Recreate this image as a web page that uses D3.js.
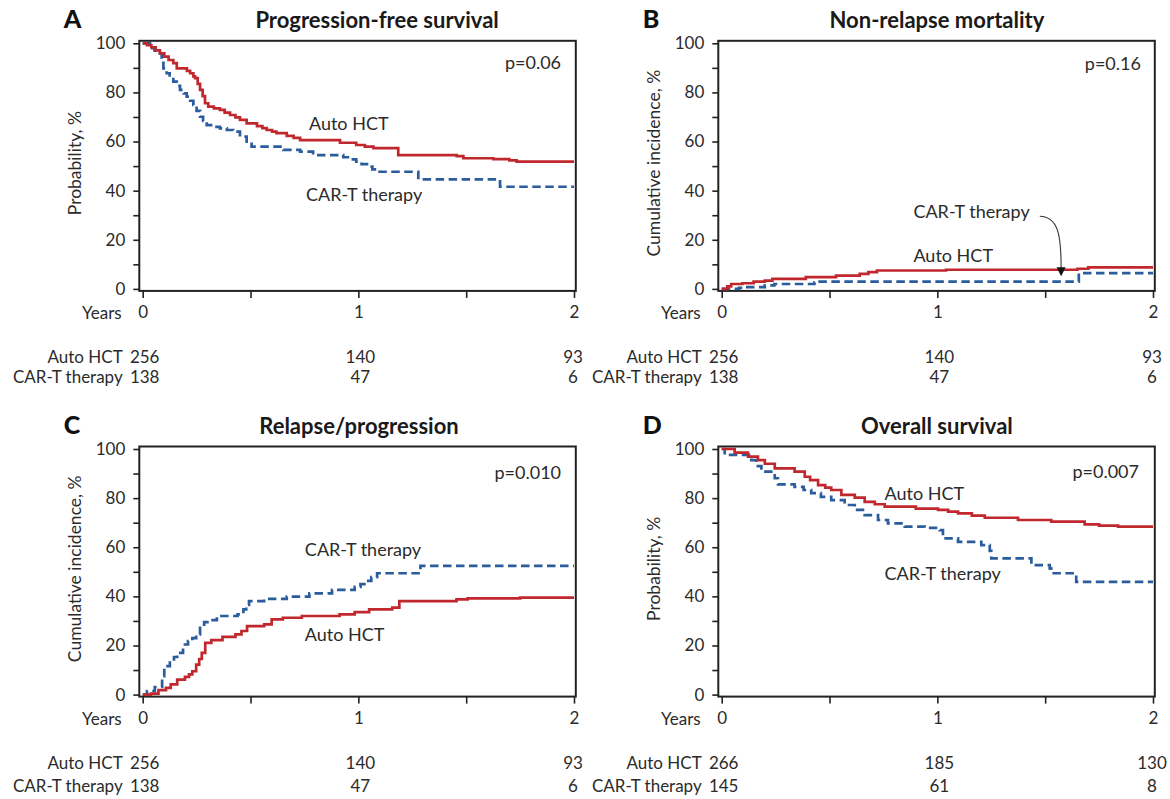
<!DOCTYPE html>
<html><head><meta charset="utf-8">
<script src="https://cdn.jsdelivr.net/npm/d3@7"></script>
<style>body{margin:0;background:#fff}svg{display:block}text{font-family:Lato,"Noto Sans",sans-serif}</style>
</head><body><svg id="c" width="1170" height="799"></svg>
<script>
// ---------- data ----------
const xTickValues = [0, 0.5, 1, 1.5, 2];
const xLabelValues = [0, 1, 2];
const yTickValues = [0, 10, 20, 30, 40, 50, 60, 70, 80, 90, 100];
const groupNames = ["Auto HCT", "CAR-T therapy"];
const riskTimes = [0, 1, 2];

const pfsAuto = [[0,100],[0.02,99.2],[0.04,98.4],[0.06,97.1],[0.08,95.9],[0.10,94.6],[0.12,93.2],[0.142,91.9],[0.158,89.8],[0.205,88.8],[0.22,87.8],[0.235,86.5],[0.243,85.8],[0.255,83.5],[0.266,81],[0.278,78.5],[0.289,75.6],[0.304,74.2],[0.33,73.5],[0.358,72.9],[0.38,71.8],[0.405,70.8],[0.43,69.8],[0.451,68.8],[0.482,67.4],[0.53,66.3],[0.555,65.5],[0.575,64.7],[0.60,64],[0.62,63.4],[0.668,62.3],[0.70,61.5],[0.73,60.6],[0.915,59.5],[0.99,58.6],[1.03,57.9],[1.07,57.3],[1.185,54.5],[1.456,54.1],[1.487,53.2],[1.626,52.8],[1.70,52.3],[1.734,51.8],[2.0,51.8]];
const pfsCar = [[0,100],[0.034,98],[0.055,97],[0.072,95.9],[0.088,93.2],[0.096,89.8],[0.111,87.8],[0.125,86.1],[0.142,84.4],[0.158,82.7],[0.173,81],[0.19,79.6],[0.204,78.3],[0.22,76.6],[0.235,74.9],[0.25,72.5],[0.266,70.1],[0.28,68.4],[0.297,66.7],[0.33,66],[0.358,65.4],[0.39,64.7],[0.42,64],[0.451,62],[0.482,60],[0.505,57.9],[0.652,56.6],[0.73,55.9],[0.79,54.5],[0.93,53.6],[0.96,52.7],[0.99,51.8],[1.015,50.8],[1.04,49.8],[1.065,48.7],[1.085,47.7],[1.278,44.6],[1.657,41.6],[2.0,41.6]];

const nrmAuto = [[0,0],[0.026,1],[0.044,2],[0.096,2.3],[0.148,3],[0.2,3.4],[0.235,4.1],[0.39,4.8],[0.53,5.4],[0.64,6.1],[0.68,6.8],[0.72,7.5],[1.04,7.8],[1.65,8.2],[1.70,8.8],[2.0,8.8]];
const nrmCar = [[0,0],[0.08,0.4],[0.11,0.7],[0.2,1.4],[0.244,2.0],[0.43,2.7],[0.44,3.0],[1.656,6.4],[2.0,6.4]];

const relAuto = [[0,0],[0.038,0.4],[0.073,1.8],[0.108,2.7],[0.13,4.2],[0.16,6.1],[0.196,7.2],[0.215,8.2],[0.23,9.5],[0.248,12.2],[0.262,14.5],[0.274,17],[0.29,21.1],[0.318,22.2],[0.37,23.5],[0.43,24.5],[0.458,25.9],[0.484,27.9],[0.563,28.6],[0.598,30.6],[0.65,31.3],[0.738,32],[0.913,32.7],[0.983,33.6],[1.05,34.7],[1.157,35.4],[1.19,38.1],[1.455,38.8],[1.507,39.2],[1.75,39.5],[2.0,39.5]];
const relCar = [[0,0],[0.02,1.4],[0.056,3.1],[0.09,7.5],[0.10,11.6],[0.126,13.6],[0.145,15.3],[0.16,17],[0.187,20.4],[0.21,21.8],[0.23,23],[0.248,24.5],[0.266,27.9],[0.285,29.5],[0.30,30.3],[0.344,32],[0.44,32.7],[0.467,34.7],[0.48,36.5],[0.493,38.1],[0.563,39],[0.668,39.9],[0.773,41.2],[0.878,42.6],[0.983,43.9],[1.01,45],[1.035,46.3],[1.06,47.8],[1.087,49.4],[1.288,52.4],[2.0,52.4]];

const osAuto = [[0,100],[0.06,98.5],[0.122,96.9],[0.168,95.5],[0.2,94],[0.246,92.1],[0.338,90.8],[0.385,88.7],[0.41,87.3],[0.447,85.3],[0.48,84.3],[0.508,83.3],[0.555,81.3],[0.617,80.2],[0.663,78.5],[0.71,77.5],[0.756,76.5],[0.9,75.7],[1.003,75.2],[1.05,74.5],[1.096,73.8],[1.16,72.9],[1.22,72],[1.374,71.1],[1.528,70.4],[1.683,69.3],[1.75,68.8],[1.838,68.4],[2.0,68.4]];
const osCar = [[0,100],[0.014,97.6],[0.137,95.5],[0.16,93],[0.184,90.8],[0.246,88.1],[0.261,85.6],[0.338,84.6],[0.38,83.3],[0.415,82],[0.46,80.5],[0.508,79.2],[0.57,77.2],[0.617,75.2],[0.663,73.1],[0.725,71.1],[0.771,69.7],[0.849,68.4],[0.941,67.9],[1.011,67],[1.026,63.6],[1.096,62.2],[1.204,60.9],[1.243,58.5],[1.25,55.5],[1.436,52.7],[1.521,51.4],[1.528,49.4],[1.637,48.7],[1.644,45.9],[2.0,45.9]];

const riskAutoABC = [256, 140, 93];
const riskCarABC = [138, 47, 6];
const riskAutoD = [266, 185, 130];
const riskCarD = [145, 61, 8];

const panelLetters = ["A", "B", "C", "D"];
const panelTitles = ["Progression-free survival", "Non-relapse mortality", "Relapse/progression", "Overall survival"];
const yAxisTitles = ["Probability, %", "Cumulative incidence, %", "Cumulative incidence, %", "Probability, %"];
const pValues = ["p=0.06", "p=0.16", "p=0.010", "p=0.007"];
// label anchor points in data units [t, value]
const autoLabelAt = [[0.771,67.4],[0.889,13.4],[0.752,24.5],[0.755,82]];
const carLabelAt = [[0.757,38.3],[0.889,31.5],[0.752,58.9],[0.755,49.4]];
const pLabelAt = [[1.94,91.9],[1.944,91.6],[1.94,90.2],[1.935,90.8]];
const titleCenterT = [1.087, 0.998, 1.003, 0.998];
// arrow in panel B (data units): start, control1, control2, tip
const arrowB = [[1.475,29.6],[1.56,29.4],[1.574,22],[1.574,5.2]];

// ---------- layout ----------
const RED = "#c0282e", BLUE = "#2b5c9c", INK = "#2b2b2b";
const colX = [142.7, 721.7], rowY = [43.3, 449];
const W = 431.3, H = 245.6;
const panels = [
  {auto: pfsAuto, car: pfsCar, riskA: riskAutoABC, riskC: riskCarABC},
  {auto: nrmAuto, car: nrmCar, riskA: riskAutoABC, riskC: riskCarABC},
  {auto: relAuto, car: relCar, riskA: riskAutoABC, riskC: riskCarABC},
  {auto: osAuto, car: osCar, riskA: riskAutoD, riskC: riskCarD}
];

const svg = d3.select("#c");
svg.append("rect").attr("width",1170).attr("height",799).attr("fill","#fff");

panels.forEach((p, i) => {
  const ox = colX[i % 2], oy = rowY[Math.floor(i / 2)];
  const x = d3.scaleLinear().domain([0, 2]).range([ox, ox + W]);
  const y = d3.scaleLinear().domain([0, 100]).range([oy + H, oy]);
  const g = svg.append("g");
  const fl = x(0) - 3.4, fr = x(2) + 1.8, ft = y(100) - 2.5, fb = y(0) + 2;

  // frame
  g.append("rect").attr("x", fl).attr("y", ft).attr("width", fr - fl).attr("height", fb - ft)
    .attr("fill", "none").attr("stroke", "#222").attr("stroke-width", 2);

  // y axis
  const yAx = g.append("g").attr("transform", `translate(${fl},0)`)
    .call(d3.axisLeft(y).tickValues(yTickValues).tickSize(6).tickPadding(8)
      .tickFormat(d => d % 20 === 0 ? d : ""));
  yAx.select(".domain").remove();
  yAx.selectAll("line").attr("stroke", "#222").attr("stroke-width", 1.6);
  yAx.selectAll("text").attr("font-size", 17).attr("fill", INK).attr("font-family", "Lato");

  // x axis
  const xAx = g.append("g").attr("transform", `translate(0,${fb})`)
    .call(d3.axisBottom(x).tickValues(xTickValues).tickSize(7).tickPadding(8)
      .tickFormat(d => xLabelValues.includes(d) ? d3.format("d")(d) : ""));
  xAx.select(".domain").remove();
  xAx.selectAll("line").attr("stroke", "#222").attr("stroke-width", 1.6);
  xAx.selectAll("text").attr("font-size", 17).attr("fill", INK).attr("font-family", "Lato");

  g.append("text").attr("x", x(0) - 21).attr("y", fb + 22).attr("dy", "0.35em")
    .attr("text-anchor", "end").attr("font-size", 17).attr("fill", INK).text("Years");

  // y-axis title
  g.append("text").attr("transform", `translate(${ox - 68},${y(50) - 3}) rotate(-90)`)
    .attr("text-anchor", "middle").attr("dy", "0.35em").attr("font-size", 17.5).attr("fill", INK)
    .text(yAxisTitles[i]);

  // title and letter
  g.append("text").attr("x", x(titleCenterT[i])).attr("y", oy - 23).attr("dy", "0.36em")
    .attr("text-anchor", "middle").attr("font-size", 22).attr("font-weight", 700).attr("fill", "#1a1a1a")
    .text(panelTitles[i]);
  g.append("text").attr("x", ox - 79).attr("y", oy - 24).attr("dy", "0.36em")
    .attr("font-size", 25).attr("font-weight", 900).attr("fill", "#111").text(panelLetters[i]);

  // curves
  const line = d3.line().x(d => x(d[0])).y(d => y(d[1])).curve(d3.curveStepAfter);
  g.append("path").datum(p.car).attr("d", line).attr("fill", "none")
    .attr("stroke", BLUE).attr("stroke-width", 2.7).attr("stroke-dasharray", "8.5,4.5");
  g.append("path").datum(p.auto).attr("d", line).attr("fill", "none")
    .attr("stroke", RED).attr("stroke-width", 2.7);

  // labels
  const lab = (pt, txt, anchor) => g.append("text").attr("x", x(pt[0])).attr("y", y(pt[1]))
    .attr("dy", "0.35em").attr("text-anchor", anchor).attr("font-size", 18).attr("fill", INK).text(txt);
  lab(autoLabelAt[i], groupNames[0], "start");
  lab(carLabelAt[i], groupNames[1], "start");
  lab(pLabelAt[i], pValues[i], "end");

  // arrow for panel B
  if (i === 1) {
    const a = arrowB.map(d => [x(d[0]), y(d[1])]);
    const path = d3.path();
    path.moveTo(a[0][0], a[0][1]);
    path.bezierCurveTo(a[1][0], a[1][1], a[2][0], a[2][1], a[3][0], a[3][1] - 8);
    g.append("path").attr("d", path.toString()).attr("fill", "none").attr("stroke", "#333").attr("stroke-width", 1.1);
    const tip = a[3];
    g.append("path").attr("d", d3.line()([[tip[0] - 4.5, tip[1] - 9], [tip[0] + 4.5, tip[1] - 9], [tip[0], tip[1]]]) + "Z")
      .attr("fill", "#111");
  }

  // numbers at risk
  const rY1 = i < 2 ? 356.7 : 763.5, rY2 = i < 2 ? 377.5 : 786.5;
  [[p.riskA, rY1, groupNames[0]], [p.riskC, rY2, groupNames[1]]].forEach(([vals, ry, name]) => {
    g.append("text").attr("x", x(0) - 20).attr("y", ry).attr("dy", "0.35em").attr("text-anchor", "end")
      .attr("font-size", 17).attr("fill", INK).text(name);
    g.selectAll(null).data(riskTimes).enter().append("text")
      .attr("x", d => x(d) + (d === 2 ? -1 : 2)).attr("y", ry).attr("dy", "0.35em").attr("text-anchor", "middle")
      .attr("font-size", 17).attr("fill", INK).text((d, k) => vals[k]);
  });
});
</script></body></html>
